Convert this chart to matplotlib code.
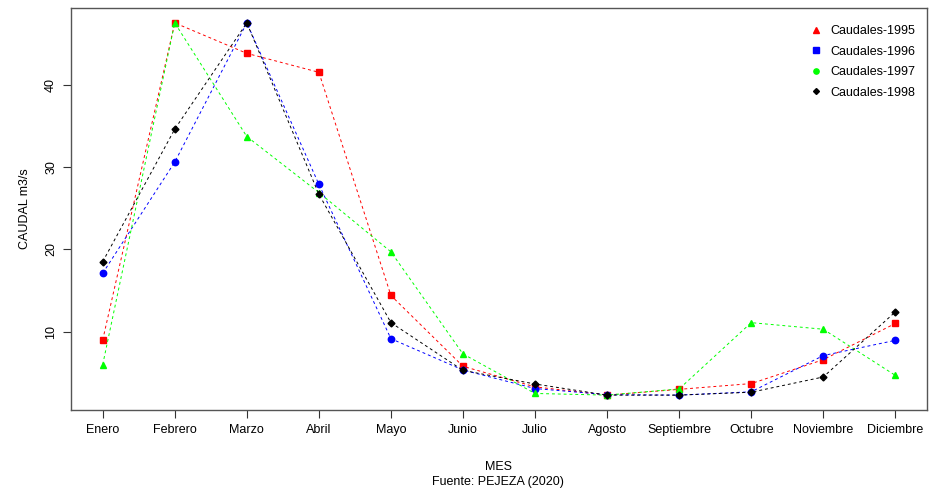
import matplotlib
matplotlib.use("Agg")
import matplotlib.pyplot as plt
from matplotlib.lines import Line2D

plt.rcParams['font.family'] = ['Liberation Sans', 'DejaVu Sans']

# DATA
meses = ['Enero', 'Febrero', 'Marzo', 'Abril', 'Mayo', 'Junio', 'Julio',
         'Agosto', 'Septiembre', 'Octubre', 'Noviembre', 'Diciembre']
q1995 = [9.0, 47.5, 43.8, 41.5, 14.4, 5.8, 3.3, 2.3, 3.0, 3.7, 6.6, 11.0]
q1996 = [17.1, 30.6, 47.5, 27.9, 9.15, 5.35, 3.1, 2.35, 2.3, 2.7, 7.1, 8.95]
q1997 = [6.0, 47.5, 33.7, 26.9, 19.7, 7.3, 2.5, 2.3, 3.05, 11.1, 10.3, 4.7]
q1998 = [18.5, 34.6, 47.5, 26.7, 11.1, 5.3, 3.65, 2.3, 2.3, 2.65, 4.5, 12.4]
leyenda = ['Caudales-1995', 'Caudales-1996', 'Caudales-1997', 'Caudales-1998']

x = list(range(1, 13))

fig = plt.figure(figsize=(9.3, 4.94), dpi=100)
ax = fig.add_axes([71/930, 84/494, 856/930, 402/494])

#series: (data, colour, marker drawn)
series = [(q1995, '#ff0000', 's'), (q1996, '#0000ff', 'o'),
          (q1997, '#00ff00', '^'), (q1998, '#000000', 'D')]
for vals, col, mk in series:
    ax.plot(x, vals, color=col, lw=0.7, ls=(0, (3, 3)), marker=mk,
            ms=4.6 if mk != 'D' else 3.5, mec=col, mfc=col)

#R-style limits (4% padding)
allv = q1995 + q1996 + q1997 + q1998
lo, hi = min(allv), max(allv)
pad = 0.04 * (hi - lo)
ax.set_ylim(lo - pad, hi + pad)
ax.set_xlim(1 - 0.44, 12 + 0.44)

ax.set_xticks(x)
ax.set_xticklabels(meses, fontsize=9)
ax.set_yticks([10, 20, 30, 40])
ax.set_yticklabels(['10', '20', '30', '40'], fontsize=9, rotation=90, va='center')
ax.tick_params(axis='both', length=6, width=0.8, color='#333333', pad=4)
for s in ax.spines.values():
    s.set_color('#555555')
    s.set_linewidth(1.0)

ax.set_ylabel('CAUDAL m3/s', fontsize=9, labelpad=10)
fig.text((71 + 427) / 930, 1 - 467/494, 'MES', ha='center', va='center', fontsize=9)
fig.text((71 + 427) / 930, 1 - 482/494, 'Fuente: PEJEZA (2020)', ha='center',
         va='center', fontsize=9)

#legend (markers as in the original, which differ from the plotted ones)
handles = [Line2D([], [], ls='none', marker='^', color='#ff0000', ms=4),
           Line2D([], [], ls='none', marker='s', color='#0000ff', ms=3.8),
           Line2D([], [], ls='none', marker='o', color='#00ff00', ms=3.8),
           Line2D([], [], ls='none', marker='D', color='#000000', ms=3)]
ax.legend(handles, leyenda, loc='upper right', frameon=False, fontsize=9,
          handlelength=0.6, handletextpad=0.9, labelspacing=0.68,
          bbox_to_anchor=(1.0, 0.985))

fig.savefig('out.png', dpi=100)
